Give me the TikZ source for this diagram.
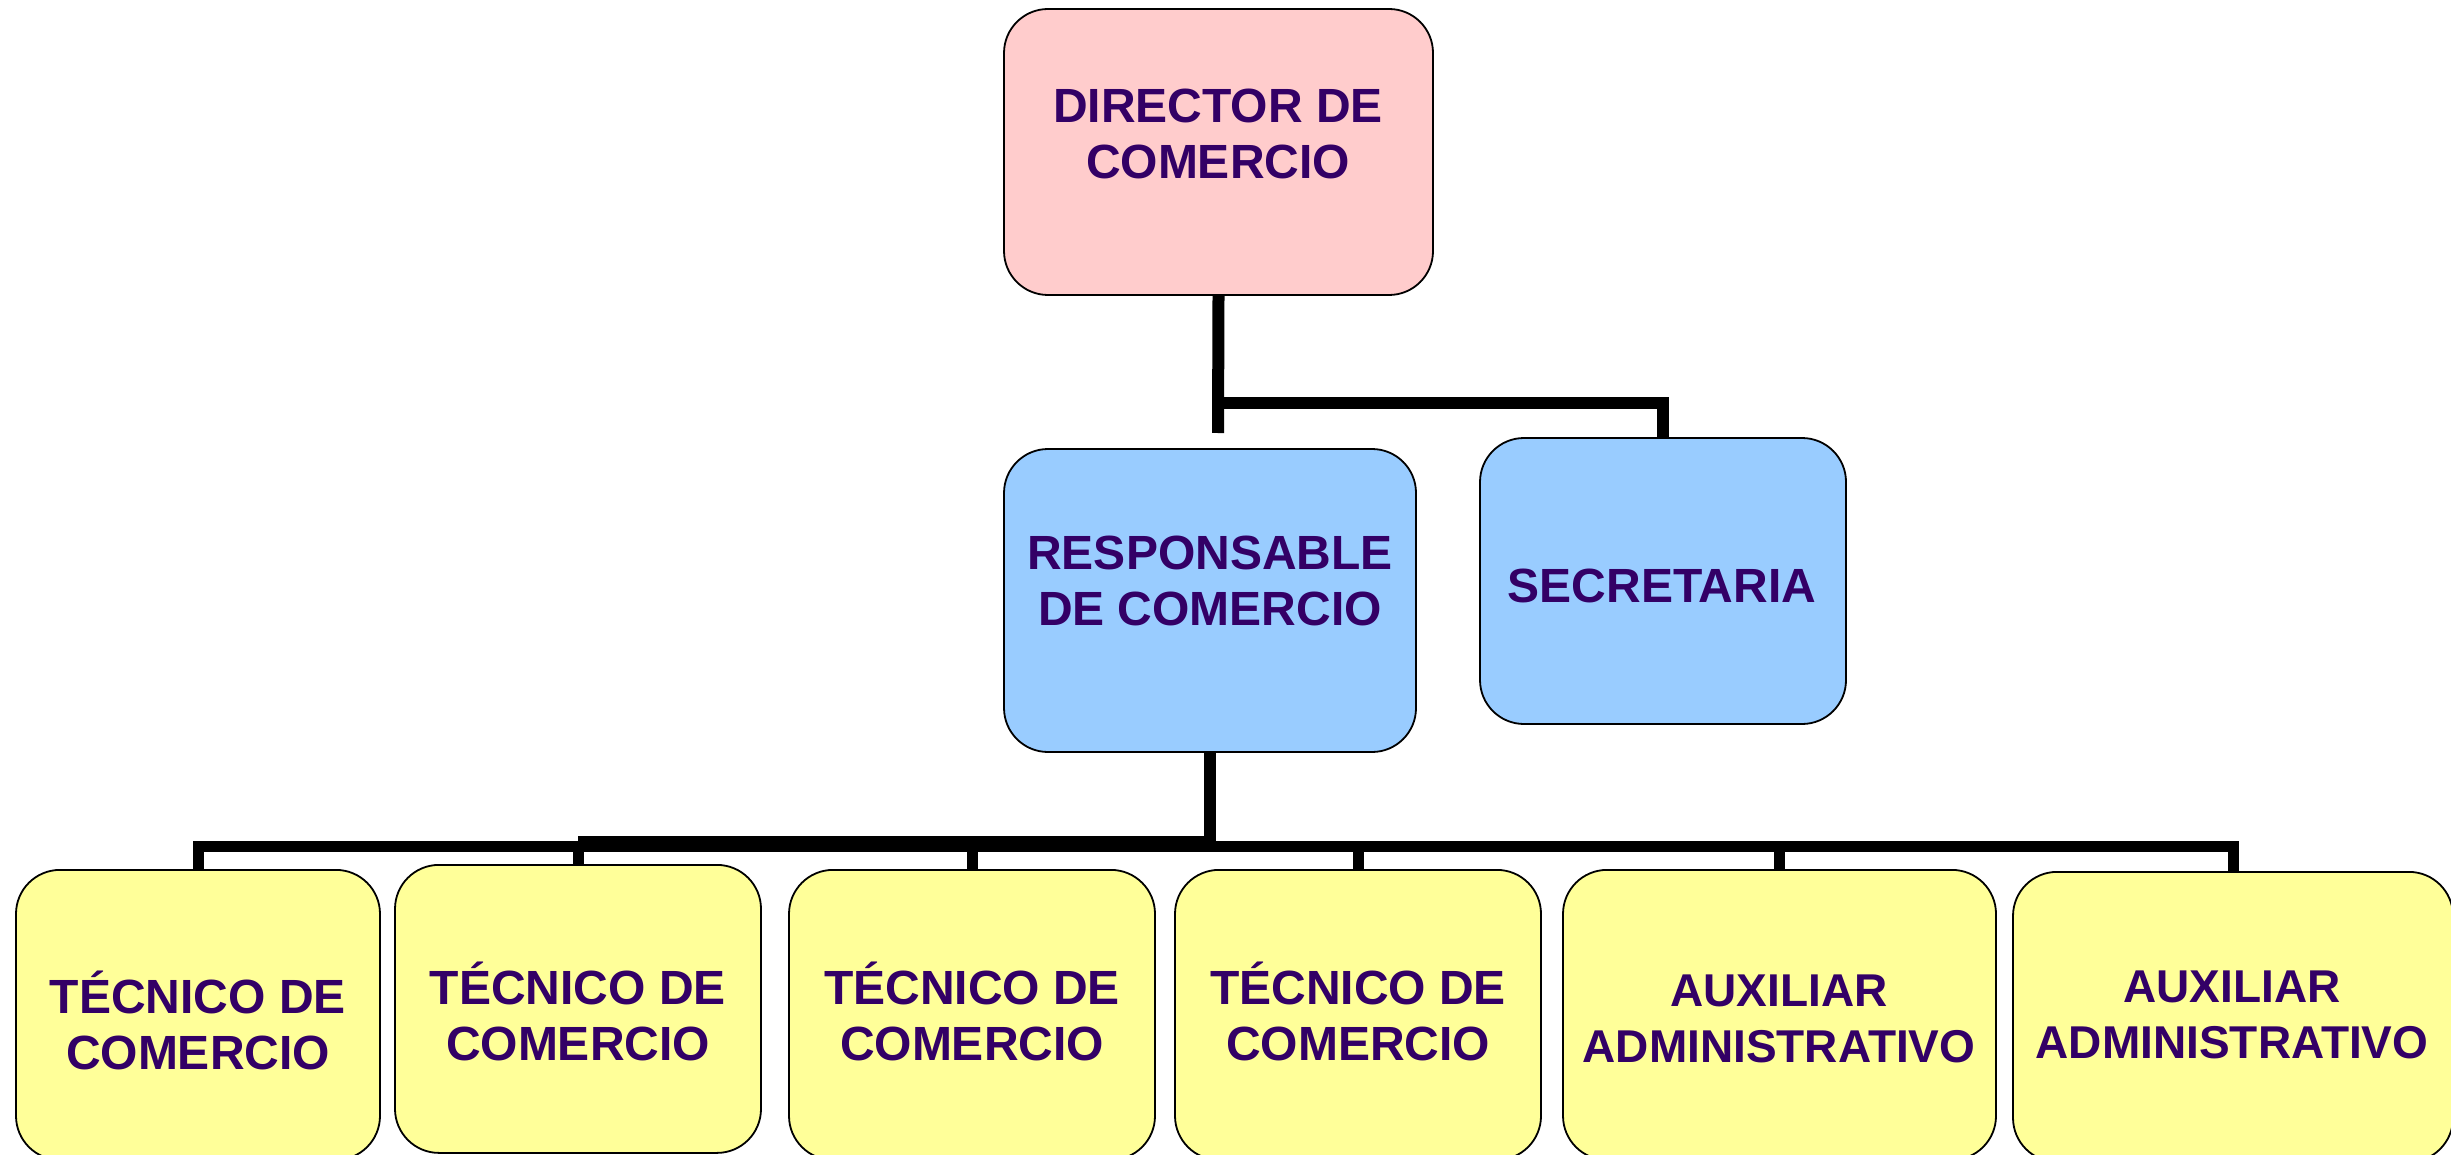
\documentclass[tikz,border=0pt]{standalone}
\usepackage{fontspec}
\setmainfont{Liberation Sans}
\definecolor{pinkbox}{HTML}{FFCCCC}
\definecolor{bluebox}{HTML}{99CCFF}
\definecolor{yellowbox}{HTML}{FFFF99}
\definecolor{inkpurple}{HTML}{330066}
\tikzset{
  box/.style={draw,line width=1.8pt,rounded corners=44pt,inner sep=0pt},
  pinkfill/.style={box,fill=pinkbox},
  bluefill/.style={box,fill=bluebox},
  yellowfill/.style={box,fill=yellowbox,anchor=north,minimum height=290pt},
  label text/.style={align=center,text=inkpurple,inner sep=0pt,
    font=\bfseries\fontsize{48}{56}\selectfont},
  conn/.style={line width=12pt},
  drop/.style={line width=11pt}
}

\begin{document}
\begin{tikzpicture}[x=1pt,y=-1pt]
      \useasboundingbox (0,0) rectangle (2451,1155);
      \clip (0,0) rectangle (2451,1155);

      % boxes
      \node[pinkfill,minimum width=429pt,minimum height=286pt] (dir) at (1218.5,152) {};
      \node[bluefill,minimum width=412pt,minimum height=303pt] (resp) at (1210,600.5) {};
      \node[bluefill,minimum width=366pt,minimum height=286pt] (sec) at (1663,581) {};
      \node[yellowfill,minimum width=364pt] (tec1) at (198,869) {};
      \node[yellowfill,minimum width=366pt,minimum height=288pt] (tec2) at (578,864) {};
      \node[yellowfill,minimum width=366pt] (tec3) at (972,869) {};
      \node[yellowfill,minimum width=366pt] (tec4) at (1358,869) {};
      \node[yellowfill,minimum width=433pt] (aux1) at (1779.5,869) {};
      \node[yellowfill,minimum width=440pt] (aux2) at (2233,871) {};

      % texts
      \node[label text] (dirT) at (1218,134) {DIRECTOR DE\\COMERCIO};
      \node[label text] (respT) at (1210,581) {RESPONSABLE\\DE COMERCIO};
      \node[label text] (secT) at (1662,586) {SECRETARIA};
      \node[label text] (tec1T) at (198,1020) {TÉCNICO DE\\COMERCIO};
      \node[label text] (tec2T) at (578,1011) {TÉCNICO DE\\COMERCIO};
      \node[label text] (tec3T) at (972,1011) {TÉCNICO DE\\COMERCIO};
      \node[label text] (tec4T) at (1358,1011) {TÉCNICO DE\\COMERCIO};
      \node[label text,font=\bfseries\fontsize{46}{56}\selectfont] (aux1T) at (1779,1019) {AUXILIAR\\ADMINISTRATIVO};
      \node[label text,font=\bfseries\fontsize{46}{56}\selectfont] (aux2T) at (2232,1015) {AUXILIAR\\ADMINISTRATIVO};

      % connectors
      \coordinate (stub) at (1218,433);
      \coordinate (fork) at (1222,403);
      \coordinate (bar) at (1210,846);
      \draw[conn] (dir.south) -- (stub);
      \draw[conn] (fork) -| (sec.north);
      \draw[conn] (resp.south) -- (bar);
      \draw[drop] (tec1.north) |- (aux2.north |- bar) -- (aux2.north);
      \draw[line width=16pt] (tec2.north |- 0,844) -- (resp.south |- 0,844);
      \draw[drop] (tec2.north |- bar) -- (tec2.north);
      \draw[drop] (tec3.north |- bar) -- (tec3.north);
      \draw[drop] (tec4.north |- bar) -- (tec4.north);
      \draw[drop] (aux1.north |- bar) -- (aux1.north);
\end{tikzpicture}
\end{document}
